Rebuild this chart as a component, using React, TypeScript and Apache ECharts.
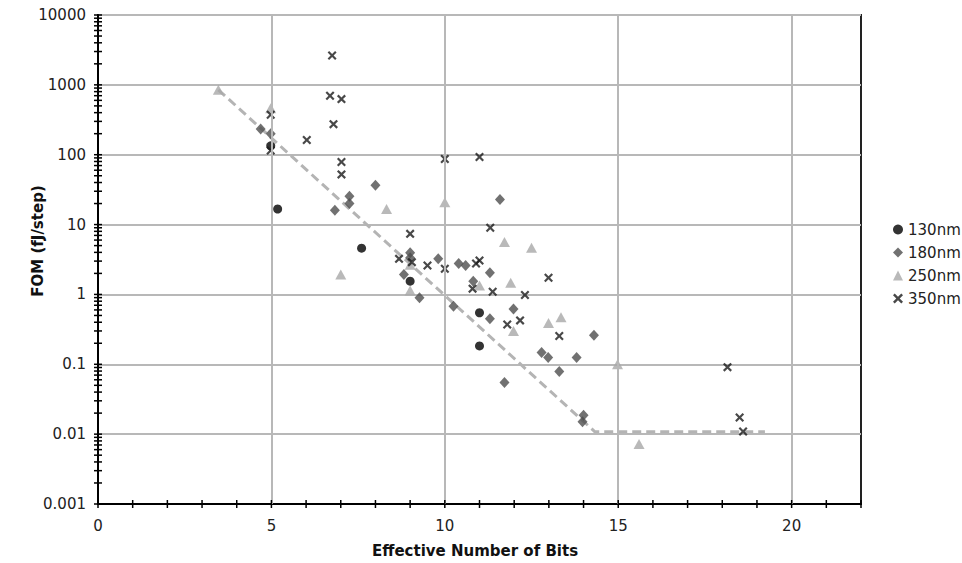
import React, { useEffect, useRef } from "react";
import * as echarts from "echarts";

const xTickLabels = ["0", "5", "10", "15", "20"];
const yTickLabels = ["0.001", "0.01", "0.1", "1", "10", "100", "1000", "10000"];
const seriesNames = ["130nm", "180nm", "250nm", "350nm"];

const data130: number[][] = [
  [4.98, 134], [5.18, 16.7], [7.6, 4.6], [9.0, 1.55], [11.0, 0.547], [11.0, 0.183],
];
const data180: number[][] = [
  [4.69, 233], [4.98, 200], [8.0, 36.5], [7.25, 25.4], [7.25, 20], [6.83, 16],
  [9.0, 3.94], [9.0, 3.34], [8.82, 1.93], [9.27, 0.897], [9.81, 3.24], [10.4, 2.77],
  [10.6, 2.6], [11.3, 2.04], [10.82, 1.55], [10.25, 0.68], [11.3, 0.45], [11.98, 0.62],
  [11.59, 22.8], [12.79, 0.147], [12.98, 0.125], [13.8, 0.125], [13.3, 0.079],
  [11.72, 0.055], [14.3, 0.26], [14.0, 0.0187], [13.97, 0.015],
];
const data250: number[][] = [
  [3.47, 850], [4.98, 464], [7.0, 1.93], [8.32, 16.7], [9.0, 2.65], [9.0, 1.14],
  [10.0, 20.8], [11.0, 1.34], [11.72, 5.65], [11.9, 1.47], [11.98, 0.3], [12.5, 4.65],
  [12.99, 0.39], [13.35, 0.47], [14.98, 0.1], [15.6, 0.0072],
];
const data350: number[][] = [
  [4.98, 373], [4.98, 115], [6.75, 2630], [6.69, 697], [7.02, 625], [6.79, 274],
  [6.02, 162], [7.02, 78.5], [7.02, 52.3], [9.0, 7.36], [8.68, 3.23], [9.05, 2.9],
  [9.5, 2.6], [10.0, 2.33], [10.0, 86.7], [11.0, 92.7], [11.31, 9.0], [10.9, 2.77],
  [11.0, 3.06], [10.8, 1.21], [11.38, 1.09], [12.31, 0.98], [12.99, 1.73], [11.8, 0.37],
  [12.17, 0.425], [13.3, 0.254], [18.15, 0.091], [18.5, 0.0173], [18.6, 0.0109],
];
const trendLine: number[][] = [[3.47, 850], [14.33, 0.0108], [19.23, 0.0108]];
const xGridValues = [5, 10, 15, 20];

const X_MIN = 0;
const X_MAX = 22;
const Y_MIN = 0.001;
const Y_MAX = 10000;

const crossPath =
  "path://M0,1.7 L1.7,0 L5,3.3 L8.3,0 L10,1.7 L6.7,5 L10,8.3 L8.3,10 L5,6.7 L1.7,10 L0,8.3 L3.3,5 Z";

const FONT = '"DejaVu Sans", Verdana, sans-serif';

export default function App() {
  const ref = useRef<HTMLDivElement>(null);
  useEffect(() => {
    if (!ref.current) return;
    const chart = echarts.init(ref.current, undefined, { renderer: "svg" });

    const yTicks: number[][] = [];
    for (let k = -3; k <= 3; k++) {
      for (let m = 1; m <= 9; m++) yTicks.push([X_MIN, m * Math.pow(10, k)]);
    }
    yTicks.push([X_MIN, Y_MAX]);
    const xTicks: number[][] = [];
    for (let v = X_MIN; v <= X_MAX; v++) xTicks.push([v, Y_MIN]);

    const option: any = {
      animation: false,
      backgroundColor: "#fff",
      grid: {
        left: 98,
        right: 101,
        top: 15,
        bottom: 59,
        show: true,
        borderColor: "#222",
        borderWidth: 2,
        backgroundColor: "transparent",
      },
      xAxis: {
        type: "value",
        min: X_MIN,
        max: X_MAX,
        interval: 1,
        axisLine: { show: true, lineStyle: { color: "#000", width: 2 } },
        axisTick: { show: false },
        splitLine: { show: false },
        axisLabel: {
          margin: 14,
          fontFamily: FONT,
          fontSize: 15,
          color: "#222",
          formatter: (v: number) => {
            const idx = xTickLabels.indexOf(String(Math.round(v)));
            return Math.abs(v - Math.round(v)) < 1e-6 && idx >= 0 ? xTickLabels[idx] : "";
          },
        },
      },
      yAxis: {
        type: "log",
        logBase: 10,
        min: Y_MIN,
        max: Y_MAX,
        axisLine: { show: true, lineStyle: { color: "#000", width: 2 } },
        axisTick: { show: false },
        splitLine: { show: true, lineStyle: { color: "#b8b8b8", width: 2 } },
        axisLabel: {
          margin: 12,
          fontFamily: FONT,
          fontSize: 15,
          color: "#222",
          formatter: (v: number) => {
            const k = Math.round(Math.log10(v));
            return yTickLabels[k + 3] ?? "";
          },
        },
      },
      legend: {
        orient: "vertical",
        left: 888,
        top: 217,
        itemGap: 8,
        itemWidth: 10,
        itemHeight: 10,
        data: seriesNames,
        textStyle: { fontFamily: FONT, fontSize: 15, color: "#222" },
      },
      graphic: [
        {
          type: "text",
          x: 38,
          y: 241,
          rotation: Math.PI / 2,
          style: {
            text: "FOM (fJ/step)",
            font: `bold 15px ${FONT}`,
            fill: "#111",
            align: "center",
            verticalAlign: "middle",
          },
        },
        {
          type: "text",
          x: 372,
          y: 551,
          style: {
            text: "Effective Number of Bits",
            font: `bold 15px ${FONT}`,
            fill: "#111",
            align: "left",
            verticalAlign: "middle",
          },
        },
      ],
      series: [
        {
          type: "scatter",
          name: "grid-x",
          data: [],
          z: 1,
          silent: true,
          markLine: {
            silent: true,
            symbol: "none",
            label: { show: false },
            lineStyle: { color: "#b8b8b8", width: 2, type: "solid" },
            data: xGridValues.map((v) => ({ xAxis: v })),
          },
        },
        {
          type: "line",
          name: "trend",
          data: trendLine,
          symbol: "none",
          z: 2,
          lineStyle: { color: "#b4b4b4", width: 3, type: [9, 5] },
        },
        {
          type: "scatter",
          name: "130nm",
          data: data130,
          symbol: "circle",
          symbolSize: 9,
          itemStyle: { color: "#000" },
          z: 4,
        },
        {
          type: "scatter",
          name: "180nm",
          data: data180,
          symbol: "diamond",
          symbolSize: [10, 11],
          itemStyle: { color: "#4d4d4d" },
          z: 3,
        },
        {
          type: "scatter",
          name: "250nm",
          data: data250,
          symbol: "triangle",
          symbolSize: [11, 10],
          itemStyle: { color: "#a8a8a8" },
          z: 3,
        },
        {
          type: "scatter",
          name: "350nm",
          data: data350,
          symbol: crossPath,
          symbolSize: 9,
          itemStyle: { color: "#1a1a1a" },
          z: 4,
        },
        {
          type: "custom",
          name: "yticks",
          data: yTicks,
          silent: true,
          clip: false,
          z: 5,
          renderItem: (params: any, api: any) => {
            const p = api.coord([api.value(0), api.value(1)]);
            return {
              type: "line",
              shape: { x1: p[0] - 4, y1: p[1], x2: p[0] + 4, y2: p[1] },
              style: { stroke: "#000", lineWidth: 1.5 },
            };
          },
        },
        {
          type: "custom",
          name: "xticks",
          data: xTicks,
          silent: true,
          clip: false,
          z: 5,
          renderItem: (params: any, api: any) => {
            const p = api.coord([api.value(0), api.value(1)]);
            return {
              type: "line",
              shape: { x1: p[0], y1: p[1] - 4, x2: p[0], y2: p[1] + 4 },
              style: { stroke: "#000", lineWidth: 1.5 },
            };
          },
        },
      ],
    };
    chart.setOption(option);
    return () => chart.dispose();
  }, []);
  return (
    <div
      ref={ref}
      style={{ position: "absolute", left: 0, top: 0, width: 962, height: 563 }}
    />
  );
}
